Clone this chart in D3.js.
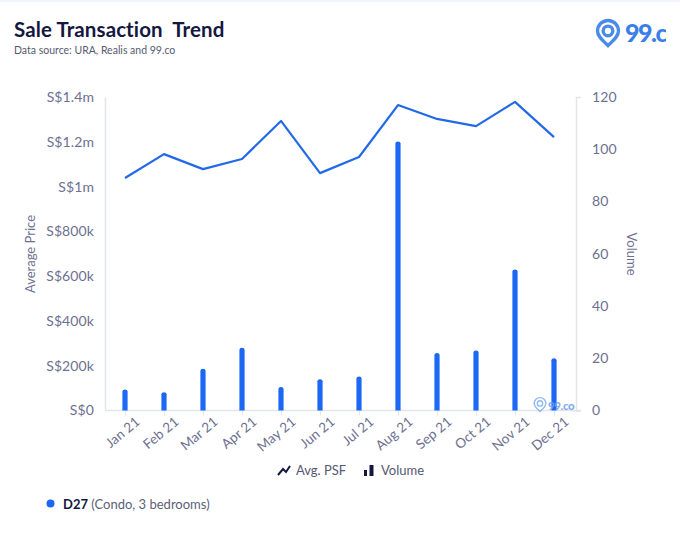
<!DOCTYPE html>
<html><head><meta charset="utf-8">
<script src="https://d3js.org/d3.v7.min.js"></script>
<style>html,body{margin:0;padding:0;background:#fff;overflow:hidden}svg{display:block;font-family:Lato,"Open Sans",sans-serif}</style>
</head><body><svg id="c" width="680" height="539"></svg>
<script>
const months=["Jan 21","Feb 21","Mar 21","Apr 21","May 21","Jun 21","Jul 21","Aug 21","Sep 21","Oct 21","Nov 21","Dec 21"];
const avgPrice=[1038000,1145000,1078000,1123000,1293000,1060000,1132000,1364000,1302000,1270000,1378000,1221000];
const volume=[8,7,16,24,9,12,13,103,22,23,54,20];
const priceTicks=[0,200000,400000,600000,800000,1000000,1200000,1400000];
const volTicks=[0,20,40,60,80,100,120];
const fmt=v=>v===0?"S$0":v>=1e6?"S$"+(v/1e6)+"m":"S$"+(v/1e3)+"k";
const svg=d3.select("#c");
const blue="#2269e8", bar="#1c68f5", grey="#6d7090", axisc="#e4e5ec", navy="#14173f";
svg.append("rect").attr("width",680).attr("height",2).attr("fill","#f1f6fc");
const x=d3.scalePoint().domain(months).range([125,554]);
const yL=d3.scaleLinear().domain([0,1400000]).range([410.5,97]);
const yR=d3.scaleLinear().domain([0,120]).range([410.5,97]);

svg.append("text").attr("x",14).attr("y",37).attr("font-size",20.5).attr("font-weight",700).attr("fill",navy).attr("letter-spacing",0.1).attr("style","white-space:pre").text("Sale Transaction  Trend");
svg.append("text").attr("x",14).attr("y",54).attr("font-size",10.5).attr("fill","#565a70").text("Data source: URA, Realis and 99.co");

function styleAxis(g){
  g.attr("font-family",null);
  g.selectAll("path").attr("stroke",axisc).attr("stroke-width",1.5);
  g.selectAll("line").attr("stroke",axisc);
  g.selectAll("text").attr("fill",grey).attr("font-size",14).attr("letter-spacing",0.1);
}
const gL=svg.append("g").attr("transform","translate(105,0)").call(d3.axisLeft(yL).tickValues(priceTicks).tickFormat(fmt).tickSize(0).tickPadding(11));
styleAxis(gL);
const gR=svg.append("g").attr("transform","translate(576,0)").call(d3.axisRight(yR).tickValues(volTicks).tickSize(5).tickPadding(10));
styleAxis(gR);
gR.selectAll(".tick line").attr("x2",d=>(d===120||d===0)?5:0).attr("x1",d=>(d===0)?-5:0);
gR.selectAll(".tick text").attr("x",16);
const gX=svg.append("g").attr("transform","translate(0,410.5)").call(d3.axisBottom(x).tickSize(5).tickPadding(6));
gX.select("path").attr("d","M105,0H581");
styleAxis(gX);
gX.selectAll(".tick text").attr("font-size",13.5).attr("text-anchor","end").attr("dx","3.5").attr("dy","8.5").attr("transform","rotate(-40)");

svg.append("text").attr("transform","translate(35,254) rotate(-90)").attr("text-anchor","middle").attr("font-size",13).attr("fill",grey).text("Average Price");
svg.append("text").attr("transform","translate(627,254) rotate(90)").attr("text-anchor","middle").attr("font-size",13).attr("fill",grey).text("Volume");

svg.append("g").selectAll("path").data(months).join("path").attr("fill",bar)
 .attr("d",m=>{const i=months.indexOf(m),cx=x(m),t=yR(volume[i]),w=2.6,b=yR(0);
   return `M${cx-w},${b}V${t+2}Q${cx-w},${t} ${cx},${t}Q${cx+w},${t} ${cx+w},${t+2}V${b}Z`;});

const line=d3.line().x((d,i)=>x(months[i])).y(d=>yL(d));
svg.append("path").datum(avgPrice).attr("d",line).attr("fill","none").attr("stroke",blue).attr("stroke-width",2.2).attr("stroke-linejoin","round");

function logo(g,s,color,sw){
  g.append("path").attr("d","M0,13 C-5,8 -10,4 -10,-1 A10,10 0 1 1 10,-1 C10,4 5,8 0,13 Z").attr("fill","none").attr("stroke",color).attr("stroke-width",sw);
  g.append("circle").attr("cy",-1).attr("r",4.6).attr("fill","none").attr("stroke",color).attr("stroke-width",sw);
  g.attr("transform",g.attr("transform")+` scale(${s})`);
}
logo(svg.append("g").attr("transform","translate(608,32)"),1.05,"#4a8be8",3.2);
svg.append("defs").append("clipPath").attr("id","lc").append("rect").attr("x",620).attr("y",15).attr("width",46).attr("height",35);
svg.append("text").attr("x",625).attr("y",42).attr("font-size",25).attr("font-weight",900).attr("letter-spacing",-1.5).attr("fill","#3a7ee8").attr("clip-path","url(#lc)").text("99.co");

logo(svg.append("g").attr("transform","translate(540,404)").attr("opacity",.75),.58,"#6fa0ee",2.4);
svg.append("text").attr("x",548).attr("y",410).attr("font-size",11.5).attr("font-weight",900).attr("letter-spacing",-0.4).attr("fill","#6fa0ee").attr("opacity",.85).text("99.co");

const lg=svg.append("g");
lg.append("path").attr("d","M278,475 L283,469 L286,472 L290,466").attr("fill","none").attr("stroke",navy).attr("stroke-width",2);
lg.append("text").attr("x",296).attr("y",475).attr("font-size",13).attr("fill","#555870").text("Avg. PSF");
lg.append("rect").attr("x",364).attr("y",470).attr("width",3).attr("height",6).attr("fill",navy);
lg.append("rect").attr("x",369.5).attr("y",465).attr("width",4).attr("height",11).attr("fill",navy);
lg.append("text").attr("x",381).attr("y",475).attr("font-size",13).attr("fill","#555870").text("Volume");

svg.append("circle").attr("cx",50.5).attr("cy",503.5).attr("r",4).attr("fill",bar);
const t=svg.append("text").attr("x",63).attr("y",509).attr("font-size",13).attr("fill","#5c5f78");
t.append("tspan").attr("font-weight",700).attr("fill",navy).text("D27");
t.append("tspan").text(" (Condo, 3 bedrooms)");
</script></body></html>
